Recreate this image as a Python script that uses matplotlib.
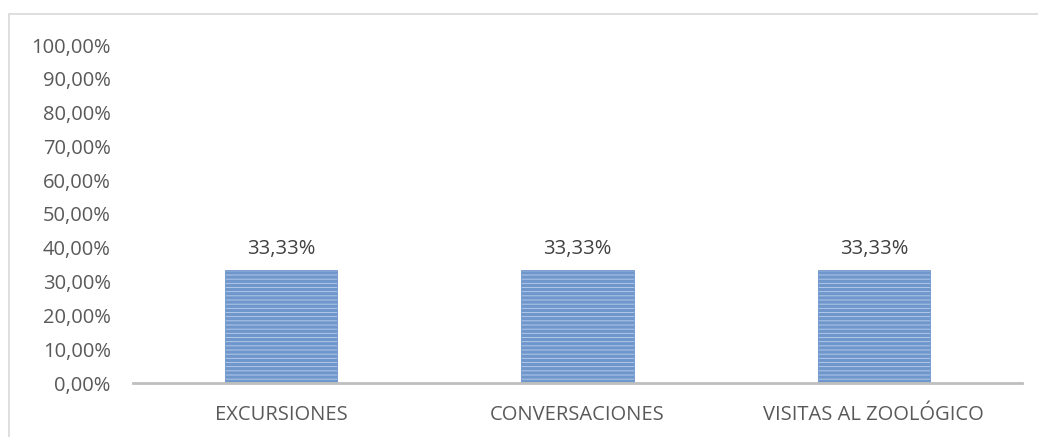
import matplotlib.pyplot as plt
from matplotlib.patches import Rectangle
from matplotlib.ticker import FuncFormatter

categories = ["EXCURSIONES", "CONVERSACIONES", "VISITAS AL ZOOLÓGICO"]
values = [33.33, 33.33, 33.33]
yticks = [0, 10, 20, 30, 40, 50, 60, 70, 80, 90, 100]

plt.rcParams['font.family'] = ['Open Sans', 'DejaVu Sans']
plt.rcParams['hatch.linewidth'] = 2.4
plt.rcParams['hatch.color'] = '#4a7cc0'

fig = plt.figure(figsize=(10.38, 4.37), dpi=100)
ax = fig.add_axes([133 / 1038, 54 / 437, 889 / 1038, 338 / 437])

# outer chart frame
fig.patches.append(Rectangle((9 / 1038, -0.05), 1.1, (437 - 14) / 437 + 0.05,
                             transform=fig.transFigure,
                             fill=False, edgecolor='#d9d9d9', linewidth=1.2))

x = range(len(categories))
bars = ax.bar(x, values, width=0.38, color='#bcd0ee', edgecolor='#6f97cc',
              linewidth=0.6, hatch='----')

for b, v in zip(bars, values):
    ax.annotate(f"{v:.2f}%".replace('.', ','), (b.get_x() + b.get_width() / 2, v),
                xytext=(0, 8), textcoords='offset points', ha='center', va='bottom',
                fontsize=14.5, color='#404040')

ax.set_xlim(-0.5, 2.5)
ax.set_ylim(0, 100)
ax.set_yticks(yticks)
ax.yaxis.set_major_formatter(FuncFormatter(lambda v, p: f"{v:.2f}%".replace('.', ',')))
ax.set_xticks(list(x))
ax.set_xticklabels(categories)
ax.tick_params(axis='both', length=0, labelsize=14.5, colors='#595959')
ax.tick_params(axis='x', pad=16)
ax.tick_params(axis='y', pad=16)

for s in ['top', 'right', 'left']:
    ax.spines[s].set_visible(False)
ax.spines['bottom'].set_color('#bfbfbf')
ax.spines['bottom'].set_linewidth(2)

fig.savefig('out.png', dpi=100)
